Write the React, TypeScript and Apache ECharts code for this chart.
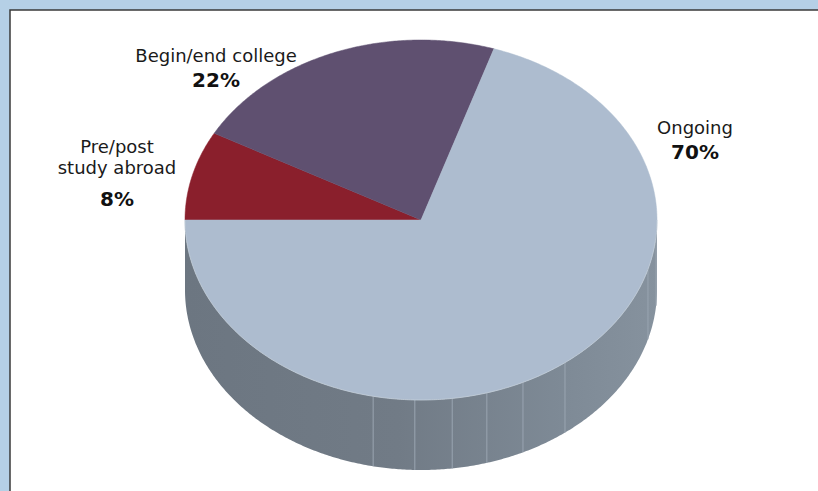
import React, { useEffect, useRef } from "react";
import * as echarts from "echarts";

// ---- data ----
const categories = ["Pre/post\nstudy abroad", "Begin/end college", "Ongoing"];
const values = [8, 22, 70];

// ---- styles / layout ----
const topColors = ["#8a1f2c", "#5f5070", "#adbccf"];
const wallStops = [
  { offset: 0, color: "#6c7681" },
  { offset: 0.45, color: "#717b86" },
  { offset: 0.8, color: "#7e8a96" },
  { offset: 1, color: "#86929e" },
];
const wallSeamAngles = [-101.7, -91.5, -82.4, -73.8, -64.4, -52.4, -15.9, -5];
const CX = 421;
const CY = 220;
const RX = 236;
const RY = 180;
const DEPTH = 70;
const START_ANGLE = 180;
const labelPos = [
  { x: 117, ys: [146.5, 167.5], py: 199 },
  { x: 216, ys: [55.5], py: 80 },
  { x: 695, ys: [127.5], py: 152 },
];
const FONT = "'DejaVu Sans', sans-serif";

function pt(theta: number, dy = 0): number[] {
  const r = (theta * Math.PI) / 180;
  return [CX + RX * Math.cos(r), CY - RY * Math.sin(r) + dy];
}

function arcPoints(a: number, b: number, dy = 0): number[][] {
  const pts: number[][] = [];
  const n = Math.max(2, Math.ceil(Math.abs(a - b) / 0.5));
  for (let i = 0; i <= n; i++) pts.push(pt(a + ((b - a) * i) / n, dy));
  return pts;
}

export default function App() {
  const ref = useRef<HTMLDivElement>(null);
  useEffect(() => {
    if (!ref.current) return;
    const chart = echarts.init(ref.current, undefined, { renderer: "svg" });
    const total = values.reduce((s, v) => s + v, 0);
    const starts: number[] = [];
    let acc = 0;
    values.forEach((v) => {
      starts.push(START_ANGLE - (acc / total) * 360);
      acc += v;
    });

    const renderItem = (params: any, api: any) => {
      const i = params.dataIndex;
      const v = api.value(0);
      const a0 = starts[i];
      const a1 = a0 - (v / total) * 360;
      const children: any[] = [];
      // top face
      children.push({
        type: "polygon",
        shape: { points: [[CX, CY], ...arcPoints(a0, a1)] },
        style: { fill: topColors[i], stroke: topColors[i], lineWidth: 0.5 },
      });
      // front wall (visible part: angles between -180 and 0)
      const wa = Math.min(a0, 0);
      const wb = Math.max(a1, -180);
      if (wa > wb) {
        const top = arcPoints(wa, wb);
        const bottom = arcPoints(wb, wa, DEPTH);
        children.push({
          type: "polygon",
          shape: { points: [...top, ...bottom] },
          style: {
            fill: {
              type: "linear",
              x: 0,
              y: 0,
              x2: 1,
              y2: 0,
              colorStops: wallStops,
            },
          },
        });
        wallSeamAngles.forEach((t) => {
          if (t < wa && t > wb) {
            const p1 = pt(t);
            const p2 = pt(t, DEPTH);
            children.push({
              type: "line",
              shape: { x1: p1[0], y1: p1[1], x2: p2[0], y2: p2[1] },
              style: { stroke: "#9aa5b1", lineWidth: 1 },
            });
          }
        });
        // light edge between top and wall
        children.push({
          type: "polyline",
          shape: { points: top },
          style: { stroke: "#c4cfdb", lineWidth: 0.8, fill: null },
        });
      }
      return { type: "group", children };
    };

    const graphics: any[] = [
      {
        type: "rect",
        shape: { x: 10, y: 10, width: 830, height: 500 },
        style: { fill: "#ffffff", stroke: "#3a3a3a", lineWidth: 1.5 },
        z: -10,
      },
    ];
    categories.forEach((name, i) => {
      const lines = name.split("\n");
      const lp = labelPos[i];
      lines.forEach((ln, j) => {
        graphics.push({
          type: "text",
          x: lp.x,
          y: lp.ys[j],
          z: 10,
          style: {
            text: ln,
            fill: "#1a1a1a",
            font: `normal 18px ${FONT}`,
            textAlign: "center",
            textVerticalAlign: "middle",
          },
        });
      });
      graphics.push({
        type: "text",
        x: lp.x,
        y: lp.py,
        z: 10,
        style: {
          text: `${values[i]}%`,
          fill: "#111111",
          font: `bold 20px ${FONT}`,
          textAlign: "center",
          textVerticalAlign: "middle",
        },
      });
    });

    chart.setOption({
      animation: false,
      backgroundColor: "#b5d0e6",
      graphic: graphics,
      series: [
        {
          type: "custom",
          coordinateSystem: "none",
          renderItem,
          data: values.map((v) => [v]),
          silent: true,
        },
      ],
    });
    return () => chart.dispose();
  }, []);
  return (
    <div
      ref={ref}
      style={{ position: "absolute", left: 0, top: 0, width: 818, height: 491 }}
    />
  );
}
